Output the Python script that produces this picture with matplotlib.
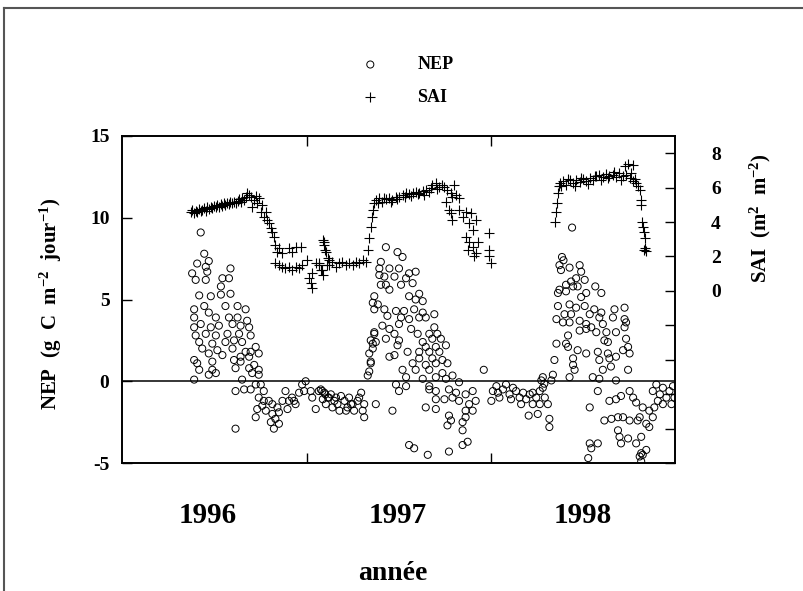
import matplotlib
matplotlib.use('Agg')
import matplotlib.pyplot as plt
from matplotlib.lines import Line2D
from matplotlib.ticker import FixedLocator, FixedFormatter

plt.rcParams['font.family'] = ['Liberation Serif', 'DejaVu Serif']
plt.rcParams['font.weight'] = 'bold'
plt.rcParams['mathtext.fontset'] = 'custom'
plt.rcParams['mathtext.rm'] = 'Liberation Serif:bold'
plt.rcParams['mathtext.default'] = 'rm'
plt.rcParams['axes.unicode_minus'] = False

# jours depuis le 1er janvier 1996
nep_1996 = [
    (156, 9.1), (163, 7.8), (172, 7.35), (149, 7.2), (166, 7.0), (139, 6.6), (169, 6.7), (215, 6.9), (146, 6.2), (199, 6.3),
    (212, 6.3), (196, 5.8), (166, 6.2), (153, 5.25), (176, 5.2), (215, 5.35), (196, 5.3), (143, 4.4), (163, 4.6), (205, 4.6),
    (229, 4.6), (245, 4.4), (172, 4.2), (143, 3.9), (156, 3.5), (186, 3.9), (212, 3.9), (229, 3.9), (248, 3.7), (143, 3.3),
    (176, 3.3), (192, 3.4), (219, 3.5), (235, 3.4), (252, 3.3), (146, 2.8), (166, 2.9), (186, 2.8), (209, 2.9), (232, 2.9),
    (255, 2.8), (153, 2.4), (179, 2.3), (205, 2.4), (222, 2.5), (238, 2.4), (265, 2.1), (159, 2.0), (189, 1.9), (219, 2.0),
    (245, 1.8), (271, 1.7), (172, 1.7), (199, 1.6), (235, 1.5), (255, 1.8), (143, 1.3), (179, 1.2), (222, 1.3), (252, 1.5),
    (149, 1.1), (235, 1.2), (153, 0.7), (179, 0.7), (225, 0.8), (262, 1.0), (271, 0.7), (143, 0.1), (172, 0.4), (186, 0.5),
    (252, 0.8), (258, 0.5), (271, 0.4), (238, 0.1),
    (225, -0.6), (242, -0.5), (255, -0.5), (265, -0.2), (275, -0.2), (281, -0.6), (271, -1.0), (281, -1.2), (291, -1.2), (278, -1.5),
    (298, -1.4), (268, -1.7), (285, -1.8), (308, -1.6), (298, -2.0), (311, -1.9), (304, -2.3), (295, -2.5), (311, -2.6), (301, -2.9),
    (265, -2.2), (225, -2.9), (324, -0.6), (331, -1.2), (337, -1.0), (344, -1.4), (351, -0.7), (357, -0.2), (364, 0.0), (361, -0.6),
    (374, -0.6), (377, -1.0), (384, -1.7), (390, -0.6), (397, -0.6), (403, -0.8), (410, -1.0), (318, -1.2), (328, -1.7), (341, -1.2),
    (394, -0.5), (401, -0.7), (408, -1.0), (414, -0.8), (421, -1.2), (427, -1.4), (434, -0.9), (441, -1.2), (447, -1.6), (454, -1.4),
    (460, -1.8), (467, -1.2), (474, -0.7), (480, -1.4), (404, -1.4), (417, -1.6), (431, -1.8), (444, -1.8), (457, -1.4), (477, -1.8),
    (480, -2.2), (398, -1.1), (424, -1.0), (450, -1.0), (470, -1.0),
]

nep_1997 = [
    (487, 0.35), (490, 0.6), (493, 1.1), (490, 1.7), (497, 2.0), (493, 2.5), (500, 2.9), (503, 2.4),
    (523, 8.2), (546, 7.9), (556, 7.6), (513, 7.3), (510, 6.9), (530, 6.9), (549, 6.9), (582, 6.7), (569, 6.6), (510, 6.5),
    (520, 6.4), (540, 6.4), (563, 6.3), (523, 5.9), (553, 5.9), (576, 6.0), (513, 5.9), (500, 5.2), (530, 5.6), (569, 5.2),
    (582, 5.0), (497, 4.8), (507, 4.7), (589, 5.35), (596, 4.9), (500, 4.4), (520, 4.4), (543, 4.3), (559, 4.3), (579, 4.4),
    (596, 4.2), (619, 4.1), (526, 4.0), (553, 3.9), (569, 3.8), (589, 3.9), (602, 3.9), (516, 3.4), (549, 3.5), (573, 3.2),
    (530, 3.2), (619, 3.3), (500, 3.0), (540, 2.9), (586, 2.9), (609, 2.9), (625, 2.9), (523, 2.6), (549, 2.5), (596, 2.4),
    (615, 2.6), (632, 2.6), (497, 2.3), (546, 2.2), (602, 2.1), (622, 2.1), (642, 2.2), (566, 1.8), (589, 1.8), (609, 1.8),
    (629, 1.8), (540, 1.6), (530, 1.5), (589, 1.4), (615, 1.4), (635, 1.3), (493, 1.2), (576, 1.1), (602, 1.0), (622, 1.1),
    (645, 1.1), (556, 0.7), (582, 0.7), (609, 0.7), (635, 0.5), (655, 0.35), (563, 0.25), (596, 0.15), (622, 0.25), (642, 0.15),
    (543, -0.2), (563, -0.3), (609, -0.3), (668, -0.06), (717, 0.7),
    (549, -0.6), (609, -0.5), (622, -0.6), (648, -0.5), (662, -0.7), (655, -1.0), (668, -1.2), (681, -0.8), (695, -0.6), (701, -1.2),
    (688, -1.4), (681, -1.8), (695, -1.8), (622, -1.1), (639, -1.1), (503, -1.4), (536, -1.8), (602, -1.6), (622, -1.7), (648, -2.1),
    (652, -2.4), (645, -2.7), (675, -2.5), (681, -2.2), (675, -3.0), (569, -3.9), (579, -4.1), (606, -4.5), (648, -4.3), (675, -3.9),
    (685, -3.7),
    (735, -0.6), (742, -0.3), (748, -1.0), (755, -0.5), (761, -0.2), (768, -0.8), (775, -0.4), (781, -0.6), (788, -1.0), (795, -0.7),
    (801, -1.1), (808, -0.8), (814, -0.7), (821, -1.0), (828, -0.6), (834, -0.4), (838, -1.0), (828, -1.4), (844, -1.4), (806, -2.1),
    (824, -2.0), (847, -2.3), (847, -2.8), (831, 0.05), (851, 0.05), (854, 0.4), (834, 0.25), (732, -1.2), (745, -0.7), (771, -1.1),
    (791, -1.4), (814, -1.4), (837, -0.15),
]

nep_1998 = [
    (892, 9.4), (872, 7.6), (875, 7.4), (867, 7.1), (870, 6.8), (887, 6.95), (907, 7.1), (910, 6.7), (917, 6.2), (900, 6.3),
    (890, 6.1), (880, 5.9), (894, 5.8), (867, 5.6), (880, 5.5), (864, 5.4), (903, 5.8), (910, 5.15), (938, 5.8), (950, 5.4),
    (920, 5.4), (887, 4.7), (900, 4.5), (917, 4.6), (864, 4.6), (877, 4.1), (890, 4.1), (936, 4.4), (950, 4.2), (976, 4.4),
    (996, 4.5), (927, 4.1), (946, 3.9), (907, 3.7), (887, 3.6), (861, 3.8), (874, 3.6), (920, 3.5), (930, 3.3), (953, 3.5),
    (973, 3.9), (996, 3.8), (999, 3.6), (907, 3.1), (920, 3.2), (940, 3.0), (960, 3.0), (979, 3.0), (996, 3.3), (884, 2.8),
    (956, 2.5), (963, 2.4), (999, 2.6), (861, 2.3), (880, 2.3), (884, 2.1), (903, 1.9), (920, 1.7), (943, 1.8), (963, 1.7),
    (979, 1.5), (993, 1.9), (1006, 1.7), (1003, 2.1), (857, 1.3), (894, 1.4), (946, 1.3), (966, 1.4), (894, 1.0), (897, 0.7),
    (953, 0.7), (969, 0.9), (1003, 0.7), (887, 0.25), (933, 0.25), (946, 0.15), (979, 0.05),
    (927, -1.6), (943, -0.6), (966, -1.2), (979, -1.1), (989, -0.9), (1006, -0.6), (1013, -1.0), (1019, -1.3), (1032, -1.6), (1026, -2.2),
    (1006, -2.4), (993, -2.2), (983, -3.0), (986, -3.4), (989, -3.8), (1003, -3.5), (1019, -3.8), (1029, -3.4), (1039, -2.6), (1022, -2.4),
    (1039, -4.2), (1026, -4.6), (1029, -4.4), (956, -2.4), (970, -2.3), (983, -2.2), (927, -3.8), (943, -3.8), (930, -4.1), (924, -4.7),
    (1052, -0.6), (1059, -0.2), (1066, -0.8), (1072, -0.4), (1079, -1.0), (1085, -0.6), (1092, -0.3), (1095, -1.0), (1089, -1.4), (1072, -1.4),
    (1055, -1.6), (1052, -2.2), (1045, -2.8), (1062, -1.2), (1045, -1.8), (1029, -4.9), (1032, -4.5),
]

sai_1996 = [
    (136, 4.6), (139, 4.7), (143, 4.55), (146, 4.66), (149, 4.6), (153, 4.75), (156, 4.63), (159, 4.7), (163, 4.8), (166, 4.66),
    (169, 4.86), (172, 4.74), (176, 4.9), (179, 4.8), (182, 4.94), (186, 4.86), (189, 5.0), (192, 4.9), (196, 5.05), (199, 4.94),
    (202, 5.09), (205, 5.0), (209, 5.13), (212, 5.03), (215, 5.17), (219, 5.09), (222, 5.19), (225, 5.09), (229, 5.25), (232, 5.33),
    (235, 5.19), (238, 5.38), (242, 5.29), (245, 5.48), (248, 5.71), (252, 5.58), (255, 5.44), (258, 4.9), (262, 5.29), (265, 5.52),
    (268, 5.09), (271, 5.38), (275, 4.61), (278, 5.0), (281, 4.32), (285, 4.61), (288, 4.12), (291, 3.93), (295, 3.64), (298, 3.44),
    (301, 3.15), (304, 2.67), (308, 2.28), (311, 2.48), (304, 1.6), (311, 1.5), (318, 1.41), (324, 1.31), (331, 1.41), (337, 1.22),
    (344, 1.41), (351, 1.31), (357, 1.51), (318, 2.19), (331, 2.48), (344, 2.53), (354, 2.57), (337, 2.28), (367, 1.8), (370, 0.73),
    (374, 0.44), (377, 0.15), (377, 1.02), (384, 1.6), (390, 1.51), (397, 1.22), (400, 2.86), (403, 2.38), (407, 1.51), (410, 1.8),
    (391, 1.6), (398, 2.96), (401, 2.67), (404, 2.28), (408, 1.9), (394, 1.22), (399, 0.93), (411, 1.51), (417, 1.7), (424, 1.41),
    (431, 1.6), (437, 1.7), (444, 1.51), (450, 1.64), (457, 1.51), (464, 1.7), (470, 1.6), (477, 1.8), (483, 1.7),
]

sai_1997 = [
    (487, 2.38), (490, 3.06), (493, 3.74), (495, 4.32), (497, 4.7), (500, 5.09), (503, 5.29), (510, 5.38), (516, 5.19), (523, 5.32),
    (530, 5.38), (536, 5.29), (543, 5.44), (549, 5.48), (556, 5.58), (563, 5.67), (569, 5.63), (576, 5.71), (582, 5.77), (589, 5.67),
    (596, 5.83), (602, 5.87), (609, 5.77), (615, 6.16), (622, 6.26), (629, 6.06), (635, 6.16), (645, 5.87), (652, 5.67), (642, 5.19),
    (648, 4.7), (655, 5.48), (662, 5.58), (668, 5.38), (658, 6.16), (652, 4.51), (655, 4.12), (668, 4.7), (675, 4.32), (681, 4.61),
    (688, 3.93), (695, 3.54), (681, 3.15), (688, 2.86), (695, 2.57), (701, 2.19), (685, 2.38), (705, 2.86), (698, 2.0), (692, 4.51),
    (701, 4.12), (728, 3.36), (728, 2.39), (728, 2.0), (732, 1.61),
    (507, 5.09), (520, 5.38), (533, 5.19), (546, 5.32), (560, 5.44), (573, 5.52), (586, 5.63), (599, 5.58), (612, 5.96), (625, 5.91),
    (639, 6.06),
]

sai_1998 = [
    (859, 4.03), (861, 4.61), (862, 5.1), (864, 5.68), (866, 6.07), (869, 6.26), (874, 6.36), (880, 6.17), (887, 6.42), (894, 6.26),
    (900, 6.46), (907, 6.3), (913, 6.49), (920, 6.36), (927, 6.55), (933, 6.46), (940, 6.65), (946, 6.75), (953, 6.61), (960, 6.8),
    (966, 6.65), (973, 6.75), (979, 6.61), (986, 6.84), (993, 6.69), (996, 7.27), (1003, 7.39), (1013, 7.33), (1006, 6.55), (1013, 6.36),
    (1019, 6.26), (1022, 6.07), (1026, 5.87), (1029, 5.29), (1029, 4.99), (1031, 4.03), (1033, 3.74), (1034, 3.45), (1036, 3.06), (1036, 2.48),
    (1038, 2.29), (1034, 2.39),
    (871, 6.07), (884, 6.49), (897, 6.11), (910, 6.55), (924, 6.22), (937, 6.69), (950, 6.42), (963, 6.55), (976, 6.88), (989, 6.46),
    (999, 6.75), (1009, 6.84), (1016, 6.49),
]

annees = ['1996', '1997', '1998']
annee_pos = [169, 546, 913]
debut_annee = [366, 731]

nep = nep_1996 + nep_1997 + nep_1998
sai = sai_1996 + sai_1997 + sai_1998
nep_x, nep_y = zip(*nep)
sai_x, sai_y = zip(*sai)

fig = plt.figure(figsize=(8.04, 5.91), dpi=100)
ax = fig.add_axes([122 / 804, 1 - 463 / 591, 553 / 804, 327 / 591])
ax2 = ax.twinx()

h1 = ax.scatter(nep_x, nep_y, s=26, facecolors='none', edgecolors='black', linewidths=0.7)
h2 = ax2.scatter(sai_x, sai_y, marker='+', s=50, color='black', linewidths=0.8)
ax.axhline(0, color='black', lw=1.1)

ax.set_xlim(0, 1096)
ax.set_ylim(-5, 15)
ax.set_yticks([-5, 0, 5, 10, 15])
ax.set_xticks(debut_annee)
ax.set_xticklabels([])
ax.tick_params(axis='x', direction='in', length=7, top=True, width=1)
ax.tick_params(axis='y', direction='in', length=7, width=1, labelsize=14, pad=9, right=False)

ax2.set_ylim(-10, 9)
ticks_sai = list(range(-10, 9, 2))
ax2.yaxis.set_major_locator(FixedLocator(ticks_sai))
ax2.yaxis.set_major_formatter(FixedFormatter([str(t) if t >= 0 else '' for t in ticks_sai]))
ax2.tick_params(axis='y', direction='in', length=7, width=1, labelsize=14, pad=26)

for a in (ax, ax2):
    for s in a.spines.values():
        s.set_linewidth(1.2)

for lab, p in zip(annees, annee_pos):
    ax.text(p, -0.16, lab, transform=ax.get_xaxis_transform(), ha='center', va='center',
            fontsize=21, fontweight='bold')
ax.text(0.49, -0.338, 'année', transform=ax.transAxes, ha='center', va='center',
        fontsize=20, fontweight='bold')

fig.text(51 / 804, 1 - 304 / 591, 'NEP  (g  C  m$^{-2}$  jour$^{-1}$)', rotation=90,
         ha='center', va='center', fontsize=15, fontweight='bold')
fig.text(760 / 804, 1 - 218 / 591, 'SAI  (m$^{2}$  m$^{-2}$)', rotation=90,
         ha='center', va='center', fontsize=15, fontweight='bold')

fig.legend([h1, h2], ['NEP', 'SAI'], loc='upper left', bbox_to_anchor=(336 / 804, 1 - 40 / 591),
           frameon=False, fontsize=13, handlelength=2, handletextpad=1.6, labelspacing=0.85)

fig.add_artist(Line2D([4 / 804, 4 / 804], [0, 1 - 8 / 591], color='#555555', lw=1.5))
fig.add_artist(Line2D([4 / 804, 1], [1 - 8 / 591, 1 - 8 / 591], color='#555555', lw=1.5))

fig.savefig('out.png', dpi=100)
